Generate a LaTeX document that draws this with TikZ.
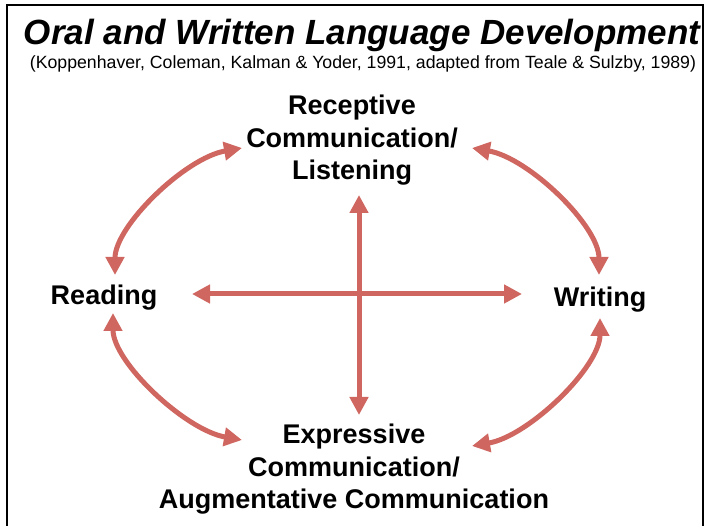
\documentclass[tikz,border=0pt]{standalone}
\usepackage{fontspec}
\setmainfont{Liberation Sans}
\usetikzlibrary{arrows.meta}
\definecolor{arrowred}{RGB}{207,102,96}
\tikzset{
  lbl/.style={font=\bfseries\fontsize{27}{32.5}\selectfont, align=center, inner sep=0pt},
  dbl/.style={arrowred, line width=5pt, {Triangle[length=18pt,width=18pt]}-{Triangle[length=18pt,width=18pt]}},
}
\begin{document}
\begin{tikzpicture}[x=1pt,y=-1pt]
\useasboundingbox (0,0) rectangle (707,526);
\draw[line width=2pt] (7,527) -- (7,5) -- (703,5) -- (703,527);
\node[inner sep=0pt, font=\bfseries\itshape\fontsize{35}{40}\selectfont] (title) at (362,35.5) {Oral and Written Language Development};
\node[inner sep=0pt, font=\fontsize{17.7}{20}\selectfont] (sub) at (363,63.5) {(Koppenhaver, Coleman, Kalman \& Yoder, 1991, adapted from Teale \& Sulzby, 1989)};
\node[lbl] (rec) at (352,140.5) {Receptive\\Communication/\\Listening};
\node[lbl] (read) at (104,297.5) {Reading};
\node[lbl] (write) at (600,300) {Writing};
\node[lbl] (expr) at (354,469.5) {Expressive\\Communication/\\Augmentative Communication};
% arrow end points
\coordinate (hl) at (192,294);
\coordinate (hr) at (522,294);
\coordinate (vt) at (359,195);
\coordinate (vb) at (359,415);
\coordinate (tla) at (115,275);
\coordinate (tlb) at (242,148);
\coordinate (tra) at (599,275);
\coordinate (trb) at (472,148);
\coordinate (bla) at (113,313);
\coordinate (blb) at (242,440);
\coordinate (bra) at (600,318);
\coordinate (brb) at (472,446);
\draw[dbl] (hl) -- (hr);
\draw[dbl] (vt) -- (vb);
\draw[dbl] (tla) .. controls (115,226) and (185,158) .. (tlb);
\draw[dbl] (tra) .. controls (599,226) and (529,158) .. (trb);
\draw[dbl] (bla) .. controls (113,362) and (185,430) .. (blb);
\draw[dbl] (bra) .. controls (600,367) and (529,436) .. (brb);
\end{tikzpicture}
\end{document}
